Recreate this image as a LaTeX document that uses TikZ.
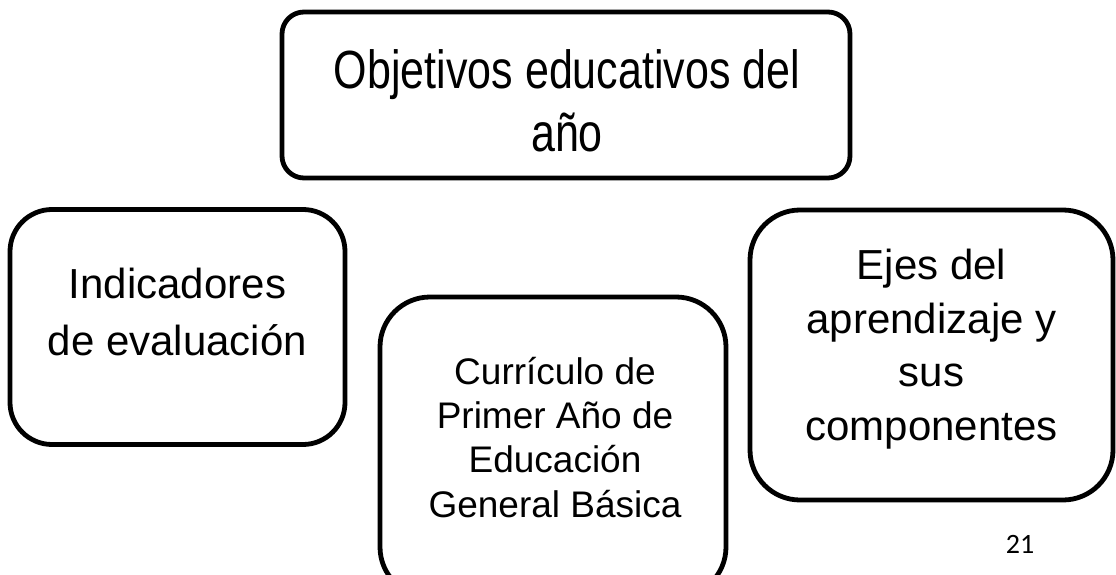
\documentclass[tikz,border=0pt]{standalone}
\usepackage{fontspec}
\setmainfont{Liberation Sans}
\newfontfamily\pagenumfont{Carlito}
\begin{document}
\begin{tikzpicture}[x=1pt,y=-1pt,
  box/.style={draw=black, line width=4.8pt, inner sep=0pt, fill=none},
  txt/.style={align=center, inner sep=0pt, anchor=base},
  bigtxt/.style={txt, yscale=1.25, transform shape, font=\fontsize{43}{51}\selectfont},
  midtxt/.style={txt, font=\fontsize{37}{44.3}\selectfont},
  sidetxt/.style={txt, font=\fontsize{42}{57}\selectfont},
  righttxt/.style={txt, font=\fontsize{42}{53.5}\selectfont}]
\useasboundingbox (0,0) rectangle (1116,575);
% boxes
\node[box, rounded corners=22pt, minimum width=568pt, minimum height=166pt] (topbox) at (566,95) {};
\node[box, rounded corners=42pt, minimum width=335pt, minimum height=235pt] (leftbox) at (177.5,327) {};
\node[box, rounded corners=50pt, minimum width=346pt, minimum height=300pt] (midbox) at (553,447) {};
\node[box, rounded corners=50pt, minimum width=363pt, minimum height=290pt] (rightbox) at (931.5,355) {};
% texts
\node[bigtxt] (toptext) at (567,152) {Objetivos educativos del\\año};
\node[sidetxt] (lefttext) at (177.5,355) {Indicadores\\de evaluación};
\node[midtxt] (midtext) at (555,517) {Currículo de\\Primer Año de\\Educación\\General Básica};
\node[righttxt] (righttext) at (931.5,440) {Ejes del\\aprendizaje y\\sus\\componentes};
\node[txt, font=\pagenumfont\fontsize{28}{30}\selectfont] (pagenum) at (1020,553) {21};
\end{tikzpicture}
\end{document}
